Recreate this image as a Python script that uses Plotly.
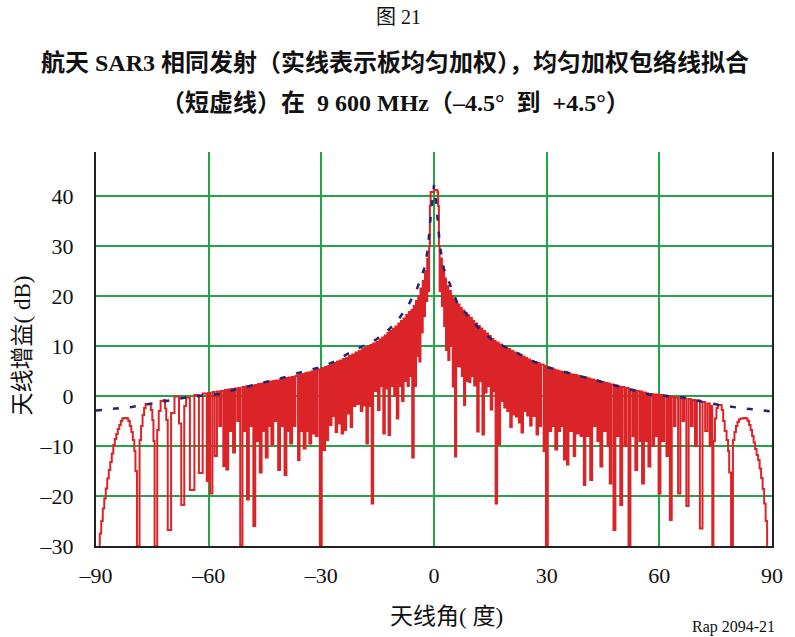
import plotly.graph_objects as go

# Antenna pattern, left half (angle in degrees, gain in dB)
ang_left = [
    -89.3, -89.0, -88.6, -88.2, -87.8, -87.4, -87.0, -86.6, -86.2, -85.8,
    -85.4, -85.0, -84.6, -84.2, -83.8, -83.4, -83.0, -82.6, -81.8, -81.4,
    -81.0, -80.6, -80.2, -79.8, -79.5, -79.1,
    -78.4, -78.0, -77.6, -77.2, -76.8, -75.8, -75.4, -75.0, -74.7, -74.4,
    -73.7, -73.3, -72.8, -72.0, -71.6, -71.3, -70.9,
    -70.0, -69.1, -67.9, -67.3, -66.5, -66.0, -65.0, -63.8, -62.6, -61.6, -60.5,
    -60.1, -59.6, -59.0, -58.4, -57.8, -57.2, -56.7, -56.1, -55.7, -55.3, -54.8,
    -54.3, -53.9, -53.5, -53.0, -52.4, -52.0, -51.6, -51.0, -50.5, -50.1, -49.8,
    -49.3, -48.8, -48.5, -48.1, -47.6, -47.1, -46.8, -46.4, -45.9, -45.4, -45.1,
    -44.8, -44.3, -43.9, -43.6, -43.3, -42.8, -42.3, -42.0, -41.5, -41.0, -40.6,
    -40.3, -39.8, -39.3, -38.9, -38.6, -38.3, -37.8, -37.3, -36.9, -36.2, -35.8,
    -35.3, -35.0, -34.7, -34.2, -33.8, -33.5, -33.2, -32.7, -32.2, -31.9, -31.5,
    -31.0, -30.4, -29.9, -29.4, -29.0, -28.6, -28.2, -27.7, -27.3, -26.8, -26.5,
    -26.2, -25.8, -25.4, -25.0, -24.6, -24.2, -23.8, -23.4, -23.0, -22.6, -22.2,
    -21.8, -21.3, -20.9, -20.4, -20.0, -19.5, -19.1, -18.8, -18.4, -18.0, -17.6,
    -17.1, -16.9, -16.6, -16.2, -15.7, -15.3, -14.9, -14.5, -14.1, -13.8, -13.5,
    -13.1, -12.7, -12.4, -12.1, -11.7, -11.3, -11.0, -10.6, -10.3, -9.9, -9.5,
    -9.1, -8.8, -8.5, -8.1, -7.8, -7.4, -7.0, -6.7, -6.3, -6.0, -5.8, -5.4,
    -5.1, -4.8, -4.5, -4.2, -3.9, -3.6, -3.3, -3.0, -2.7, -2.4, -2.1, -1.8,
    -1.5, -1.3, -1.1, -0.9, 0.0,
]
gain_left = [
    -30, -27.5, -25, -22.5, -20.5, -18.5, -16.5, -14.8, -13.2, -11.5,
    -9.8, -8.6, -7.6, -6.6, -5.8, -5.0, -4.5, -4.4, -4.5, -5.0,
    -6.0, -7.2, -8.8, -11, -15, -30,
    -8.8, -6, -3.8, -2.4, -1.6, -1.6, -2.8, -4.8, -9, -30,
    -6.8, -3, -1.0, -0.8, -2.5, -4.8, -26.8,
    -3.4, -0.1, -5.5, -21.8, -2.0, -0.3, -18.8, 0.2, -15.4, 0.5, -17,
    0.6, -19.5, 0.8, -12, 0.9, -6, 1.0, -14, 1.2, -14.7, 1.3,
    -7, 1.4, -11.3, 1.5, -5, 1.6, -30, 1.8, -7, 1.9, -20.7,
    2.0, -6, 2.1, -26, 2.2, -9, 2.4, -15.3, 2.5, -7, 2.6,
    -12.3, 2.8, -6, 2.9, -9.7, 3.0, -5, 3.1, -14.8, 3.3, -6,
    3.4, -15.8, 3.6, -7, 3.7, -9.5, 3.8, -6, 4.0, -12.8, 4.2,
    -7, 4.4, -10.5, 4.6, -7, 4.7, -9.5, 4.9, -7.5, 5.1, -8,
    5.3, -30, 5.6, -10.8, 5.8, -8.8, 6.0, -5.8, 6.3, -4, 6.6,
    -7.2, 6.9, -5.5, 7.1, -7.5, 7.4, -6.8, 7.6, -3.5, 8.0, -6.2,
    8.3, -2, 8.7, -1.6, 9.0, -3, 9.4, -1.9, 9.6, -9.5, 9.9,
    -2, 10.2, -21.5, 10.5, 1, 10.8, -2.8, 11.3, 2, 11.7, -7.5,
    12.1, 1.5, 12.6, -7.8, 13.0, 2, 13.4, 0, 13.9, -4.5, 14.5,
    2, 15.0, -1, 15.5, 3, 16.2, 2, 16.8, 4, 17.2, -12.3, 18.0,
    2, 19.0, 8, 20.0, 6.9, 21.5, 12.7, 23.0, 16, 25.0, 19, 27.5,
    21, 30, 38, 40.8, 41.2,
]

# Antenna pattern, right half
ang_right = [
    0.9, 1.1, 1.3, 1.5, 1.8, 2.1, 2.4, 2.7, 3.0, 3.2, 3.5, 3.8, 4.1, 4.5,
    4.8, 5.0, 5.3, 5.6, 5.9, 6.2, 6.5, 6.8, 7.1, 7.4, 7.7, 8.0, 8.3, 8.7,
    9.0, 9.4, 9.7, 10.1, 10.4, 10.7, 11.1, 11.5, 11.9, 12.2, 12.6, 12.9, 13.3,
    13.6, 14.0, 14.4, 14.7, 15.1, 15.5, 15.8, 16.1, 16.4, 16.8, 17.2, 17.6,
    18.0, 18.4, 18.7, 19.1, 19.5, 19.9, 20.3, 20.7, 21.1, 21.5, 21.8, 22.2,
    22.6, 23.0, 23.3, 23.7, 24.1, 24.5, 24.8, 25.2, 25.6, 26.0, 26.4, 26.8,
    27.3, 27.7, 28.1, 28.5, 29.2, 29.5, 29.8, 30.3, 30.8, 31.2, 31.7, 32.0,
    32.3, 32.8, 33.2, 33.6, 34.0, 34.3, 34.6, 34.9, 35.4, 35.8, 36.3, 36.7,
    37.2, 37.6, 38.1, 38.5, 39.0, 39.4, 39.9, 40.3, 40.8, 41.2, 41.6, 42.1,
    42.6, 43.0, 43.5, 43.9, 44.3, 44.8, 45.3, 45.7, 46.2, 46.5, 46.8, 47.2,
    47.8, 48.3, 48.8, 49.2, 49.6, 50.1, 50.7, 51.2, 51.8, 52.3, 52.9, 53.2,
    53.6, 54.1, 54.7, 55.0, 55.4, 55.9, 56.4, 56.7, 57.1, 57.6, 58.2, 58.6,
    59.0, 59.4, 59.8, 60.3, 60.8, 61.3, 61.9, 62.4, 62.8, 63.3, 63.9, 64.3,
    65.0, 65.6, 66.2, 66.6, 67.2, 67.8, 68.4, 68.9, 69.5, 70.0, 70.8, 71.5,
    72.2, 72.8, 73.4, 73.8,
    74.1, 74.4, 74.8, 75.2, 75.6, 76.2, 76.6, 77.0, 77.4, 77.9, 78.3, 78.6, 79.1,
    79.6, 80.0, 80.4, 80.8, 81.2, 81.6, 82.4, 83.1, 83.5, 83.9, 84.3, 84.7,
    85.1, 85.5, 85.9, 86.3, 86.7, 87.1, 87.5, 87.9, 88.3, 88.7,
]
gain_right = [
    40.8, 38, 30, 21, 27.5, 18, 25.2, 14, 23.5, 9.2, 22, 7.2, 21, 10,
    20, 1.9, 19.3, -12.1, 18.7, 6, 18.3, 5.9, 17.6, 4, 17.1, -1.8, 16.6, 3,
    16.1, 2.8, 15.6, 4, 15.0, 2.1, 14.5, -7.1, 14.0, 3, 13.5, -7.7, 13.0,
    0.7, 12.5, 2, 12.0, -2.7, 11.4, 1, 11.0, -21.5, 10.7, -9.6, 10.3,
    -1, 10.0, -2.3, 9.7, -3, 9.4, -6.2, 9.0, -3.7, 8.7, -4.1, 8.5,
    -5.3, 8.2, -7.3, 7.9, -3, 7.6, -3.9, 7.3, -5.9, 7.0, -4, 6.8,
    -7.7, 6.6, -6, 6.3, -11, 6.0, -30, 5.7, -7, 5.5, -6, 5.3,
    -10.7, 5.1, -7, 4.9, -6, 4.8, -12.7, 4.7, -13.7, 4.5, -7, 4.3,
    -12, 4.2, -7.5, 4.0, -8, 3.8, -17.8, 3.7, -8, 3.5, -16.8, 3.3,
    -6, 3.1, -9, 3.0, -14.1, 2.8, -7, 2.6, -10, 2.5, -17.5, 2.3,
    -26.8, 2.1, -8, 1.9, -21.8, 1.8, -10, 1.6, -30, 1.3, -8, 1.2,
    -14.8, 1.0, -9, 0.9, -17.5, 0.7, -9, 0.5, -14.1, 0.4, -10, 0.3,
    -8, 0.3, -19.5, 0.2, -9, 0.1, -12, 0.0, -24.8, -0.2, -6, -0.3,
    -19.5, -0.4, -5, -0.5, -22, -0.6, -6, -0.8, -10, -0.9, -26.5, -1.2,
    -7, -1.5, -10, -2.0,
    -30, -9, -4.5, -2.4, -1.8, -1.8, -2.8, -5, -7, -8.8, -11, -15.3, -30,
    -8.8, -7.2, -6.0, -5.2, -4.7, -4.5, -4.4, -4.5, -5.0, -5.8, -6.8, -8.0,
    -9.3, -10.6, -11.8, -12.8, -14.5, -16.4, -18.6, -21.5, -25, -30,
]

# Uniform-weighting envelope fit
env_ang = [
    -90, -85.3, -80.5, -75.9, -71, -66, -61.6, -57.1, -52.8, -48, -43.4, -39,
    -34.7, -30.5, -26.4, -22.6, -19.1, -15.4, -12, -9.3, -6.8, -4.4, -2.6,
    -1.6, -1.1, -0.5, 0, 0.6, 1.1, 1.6, 2.6, 4.4, 6.2, 9.1, 11.5, 15.2, 18.9,
    22.7, 26.5, 30.4, 34.4, 39, 43.3, 48, 52.5, 57.2, 61.7, 66.4, 71.2, 75.9,
    80.6, 85.3, 90,
]
env_gain = [
    -2.9, -2.6, -2.2, -1.6, -0.9, -0.3, 0.1, 0.4, 1.3, 2.2, 3.0, 3.9,
    4.9, 5.7, 6.9, 8.6, 9.9, 11.3, 13.3, 15.5, 18.2, 21.7, 25.5,
    29.5, 34.2, 38.5, 42.2, 38.5, 34.4, 29.9, 25.5, 21.9, 18.6, 16.0, 13.9, 11.4, 9.8,
    8.4, 6.9, 5.7, 4.9, 3.9, 3.0, 2.1, 1.3, 0.3, 0.0, -0.3, -1.1, -1.8,
    -2.3, -2.7, -3.1,
]

x_ticks = [-90, -60, -30, 0, 30, 60, 90]
x_tick_text = ["–90", "–60", "–30", "0", "30", "60", "90"]
y_ticks = [-30, -20, -10, 0, 10, 20, 30, 40]
y_tick_text = ["–30", "–20", "–10", "0", "10", "20", "30", "40"]

SERIF = "Liberation Serif, 'Noto Sans CJK SC', serif"
GRID = "#22a447"

fig = go.Figure()
# Sampled pattern drawn as steps between sample angles
fig.add_trace(go.Scatter(
    x=ang_left + ang_right, y=gain_left + gain_right,
    mode="lines", line=dict(color="#da2428", width=2.0, shape="hv"),
    showlegend=False, hoverinfo="skip",
))
fig.add_trace(go.Scatter(
    x=env_ang, y=env_gain,
    mode="lines", line=dict(color="#24246e", width=2.5, dash="6px,11px"),
    showlegend=False, hoverinfo="skip",
))

fig.update_layout(
    width=795, height=637,
    margin=dict(l=96, r=19, t=152, b=91),
    paper_bgcolor="white", plot_bgcolor="white",
    font=dict(family=SERIF, color="#111"),
    xaxis=dict(
        range=[-90, 90], tickvals=x_ticks, ticktext=x_tick_text,
        showgrid=True, gridcolor=GRID, gridwidth=2, zeroline=False,
        showline=True, linecolor="#222", linewidth=2, ticks="",
        tickfont=dict(size=22, family=SERIF), ticklabelstandoff=9,
    ),
    yaxis=dict(
        range=[-30, 48.8], tickvals=y_ticks, ticktext=y_tick_text,
        showgrid=True, gridcolor=GRID, gridwidth=2, zeroline=False,
        showline=True, linecolor="#222", linewidth=2, mirror=True, ticks="",
        tickfont=dict(size=22, family=SERIF), ticklabelstandoff=16,
    ),
)

annotations = [
    dict(text="图 21", x=0.447, y=1.343, font=dict(size=20)),
    dict(text="<b>航天 SAR3 相同发射（实线表示板均匀加权），均匀加权包络线拟合</b>",
         x=0.443, y=1.228, font=dict(size=24)),
    dict(text="<b>（短虚线）在  9 600 MHz（–4.5°  到  +4.5°）</b>",
         x=0.443, y=1.124, font=dict(size=24)),
    dict(text="天线增益( dB)", x=-0.109, y=0.51, textangle=-90, font=dict(size=23)),
    dict(text="天线角( 度)", x=0.518, y=-0.18, font=dict(size=23)),
    dict(text="Rap 2094-21", x=0.943, y=-0.206, font=dict(size=16)),
]
for a in annotations:
    fig.add_annotation(xref="paper", yref="paper", showarrow=False,
                       xanchor="center", yanchor="middle", **a)

fig.write_html("out.html")
